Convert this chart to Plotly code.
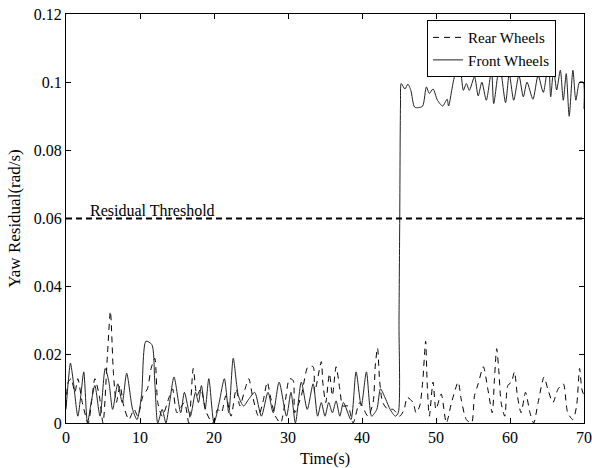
import plotly.graph_objects as go

# ---- data ----
front_t = [0, 0.3, 0.6, 1.0, 1.6, 2.0, 2.4, 2.9, 3.4, 3.9,
           4.6, 5.3, 5.8, 6.3, 7.0, 7.6, 8.2, 9.0, 9.6, 10.2,
           10.8, 11.6, 12.0, 12.4, 13.0, 13.5, 14.0, 14.6, 15.5, 16.0,
           16.8, 17.5, 17.9, 18.3, 18.8, 19.3, 20.0, 20.7, 21.4, 22.0,
           22.6, 23.3, 24.0, 24.7, 25.5, 26.4, 27.3, 28.0, 28.8, 29.8,
           30.4, 31.0, 31.8, 32.6, 33.4, 34.0, 34.5, 35.0, 35.5, 36.0,
           36.5, 37.0, 37.5, 38.5, 39.2, 39.9, 40.6, 41.3, 42.0, 42.5,
           43.2, 43.8, 44.5, 44.9, 45.0, 45.1, 45.2, 45.3,
           45.8, 46.2, 46.6, 47.1, 47.6, 48.2, 48.7, 49.1, 49.6, 50.2,
           50.9, 51.5, 51.7, 52.5, 53.2, 53.7, 54.1, 54.5, 55.2, 55.7,
           56.2, 56.8, 57.5, 57.8, 58.6, 59.4, 59.9, 60.5, 61.2, 61.8,
           62.3, 63.1, 63.8, 64.5, 65.2, 65.5, 65.9, 66.3, 66.8, 67.2,
           67.6, 68.0, 68.5, 68.9, 69.4, 69.9, 70.0]
front_v = [0.004, 0.012, 0.0176, 0.012, 0.002, 0.008, 0.015, 0.0, 0.006, 0.011,
           0.002, 0.016, 0.012, 0.004, 0.0115, 0.006, 0.0146, 0.004, 0.001, 0.008,
           0.024, 0.023, 0.012, 0.0, 0.004, 0.0, 0.006, 0.0135, 0.003, 0.009,
           0.002, 0.009, 0.006, 0.011, 0.004, 0.013, 0.0, 0.006, 0.013, 0.003,
           0.019, 0.008, 0.005, 0.007, 0.009, 0.002, 0.009, 0.003, 0.012, 0.002,
           0.009, 0.0, 0.012, 0.004, 0.0115, 0.002, 0.006, 0.002, 0.006, 0.003,
           0.0065, 0.002, 0.006, 0.001, 0.015, 0.005, 0.015, 0.002, 0.004, 0.010,
           0.007, 0.004, 0.002, 0.003, 0.03, 0.06, 0.093, 0.0996,
           0.098, 0.0994, 0.0976, 0.0927, 0.0925, 0.093, 0.0986, 0.0967, 0.098, 0.0947,
           0.093, 0.095, 0.093, 0.1016, 0.1045, 0.0976, 0.0996, 0.0976, 0.1016, 0.096,
           0.100, 0.0947, 0.1035, 0.0937, 0.105, 0.094, 0.1025, 0.0947, 0.102, 0.0957,
           0.100, 0.095, 0.102, 0.097, 0.106, 0.0957, 0.104, 0.0977, 0.1035, 0.0947,
           0.1025, 0.090, 0.1035, 0.0947, 0.100, 0.100, 0.0922]

rear_t = [0, 0.3, 0.7, 1.2, 1.6, 2.2, 3.0, 3.5, 3.9, 4.5,
          5.0, 5.6, 6.0, 6.4, 6.8, 7.3, 7.8, 8.5, 9.2, 9.7,
          10.4, 11.0, 11.5, 12.0, 12.4, 13.0, 14.0, 14.4, 15.0, 16.0,
          16.6, 17.2, 17.7, 18.2, 19.0, 19.8, 20.5, 21.0, 21.6, 22.3,
          23.0, 23.5, 24.2, 24.7, 25.2, 26.0, 26.6, 27.2, 27.6, 28.3,
          29.0, 29.6, 30.2, 30.7, 30.9, 31.8, 32.7, 33.4, 33.6, 34.5,
          34.7, 35.1, 35.6, 36.0, 36.5, 37.0, 37.4, 38.1, 38.8, 39.7,
          40.8, 41.5, 41.8, 42.1, 42.4, 42.8, 43.5, 44.2, 45.1, 45.7,
          46.1, 46.9, 47.3, 47.8, 48.2, 48.6, 48.8, 49.1, 49.6, 50.0,
          50.7, 51.4, 52.1, 53.0, 53.4, 54.1, 54.8, 55.2, 55.7, 56.4,
          57.0, 57.6, 57.9, 58.2, 58.5, 58.8, 59.3, 59.7, 60.2, 60.6,
          61.0, 61.5, 62.1, 62.7, 63.2, 63.8, 64.6, 65.1, 65.8, 66.5,
          67.2, 67.8, 68.5, 69.0, 69.4, 69.7, 70.0]
rear_v = [0.005, 0.012, 0.013, 0.009, 0.013, 0.006, 0.0, 0.007, 0.013, 0.008,
          0.0, 0.02, 0.0328, 0.015, 0.006, 0.011, 0.005, 0.001, 0.004, 0.002,
          0.008, 0.01, 0.016, 0.019, 0.006, 0.002, 0.008, 0.01, 0.003, 0.006,
          0.0, 0.016, 0.008, 0.01, 0.003, 0.0, 0.004, 0.003, 0.008, 0.002,
          0.01, 0.005, 0.01, 0.013, 0.008, 0.002, 0.006, 0.012, 0.008, 0.002,
          0.0, 0.006, 0.013, 0.0125, 0.003, 0.008, 0.0165, 0.0165, 0.009, 0.018,
          0.012, 0.006, 0.0145, 0.008, 0.0165, 0.01, 0.005, 0.005, 0.0, 0.006,
          0.002, 0.006, 0.017, 0.022, 0.012, 0.006, 0.004, 0.004, 0.002, 0.004,
          0.0075, 0.006, 0.003, 0.005, 0.012, 0.024, 0.012, 0.002, 0.012, 0.004,
          0.0085, 0.0, 0.006, 0.012, 0.007, 0.001, 0.0, 0.008, 0.0115, 0.0165,
          0.01, 0.003, 0.013, 0.0218, 0.015, 0.006, 0.002, 0.011, 0.012, 0.015,
          0.008, 0.003, 0.009, 0.003, 0.0, 0.006, 0.0135, 0.01, 0.006, 0.01,
          0.0115, 0.003, 0.001, 0.005, 0.016, 0.01, 0.008]

threshold = 0.06
threshold_label = "Residual Threshold"
x_ticks = [0, 10, 20, 30, 40, 50, 60, 70]
y_ticks = [0, 0.02, 0.04, 0.06, 0.08, 0.1, 0.12]
y_tick_labels = ["0", "0.02", "0.04", "0.06", "0.08", "0.1", "0.12"]

FONT = "Liberation Serif, Times New Roman, serif"

fig = go.Figure()
fig.add_trace(go.Scatter(x=rear_t, y=rear_v, mode="lines", name="Rear Wheels",
                         line=dict(color="black", width=1, dash="6px,5px",
                                   shape="spline", smoothing=0.7)))
fig.add_trace(go.Scatter(x=front_t, y=front_v, mode="lines", name="Front Wheels",
                         line=dict(color="#222222", width=1,
                                   shape="spline", smoothing=0.7)))

fig.add_shape(type="line", xref="x", yref="y", x0=x_ticks[0], x1=x_ticks[-1],
              y0=threshold, y1=threshold,
              line=dict(color="black", width=2, dash="6px,4px"))
fig.add_annotation(x=3, y=threshold, xref="x", yref="y", text=threshold_label,
                   showarrow=False, xanchor="left", yanchor="bottom",
                   font=dict(family=FONT, size=16, color="black"), yshift=-2)

axis_common = dict(showline=True, linecolor="black", linewidth=1, mirror="ticks",
                   ticks="inside", ticklen=5, tickcolor="black", showgrid=False,
                   zeroline=False, tickfont=dict(family=FONT, size=16, color="black"))

fig.update_xaxes(range=[0, 70], tickvals=x_ticks, title=dict(text="Time(s)", standoff=7,
                 font=dict(family=FONT, size=16, color="black")), **axis_common)
fig.update_yaxes(range=[0, 0.12], tickvals=y_ticks, ticktext=y_tick_labels,
                 title=dict(text="Yaw Residual(rad/s)", standoff=8,
                            font=dict(family=FONT, size=17, color="black")), **axis_common)

fig.update_layout(
    width=592, height=468,
    margin=dict(l=66, r=8, t=14, b=45, autoexpand=False),
    plot_bgcolor="white", paper_bgcolor="white",
    font=dict(family=FONT, size=16, color="black"),
    legend=dict(x=0.697, y=0.985, xanchor="left", yanchor="top",
                bordercolor="black", borderwidth=1, bgcolor="white",
                font=dict(family=FONT, size=15, color="black"),
                itemwidth=30, tracegroupgap=0),
    showlegend=True,
)

fig.write_html("out.html", config={"displayModeBar": False},
               post_script="document.body.style.margin='0';document.body.style.overflow='hidden';")
